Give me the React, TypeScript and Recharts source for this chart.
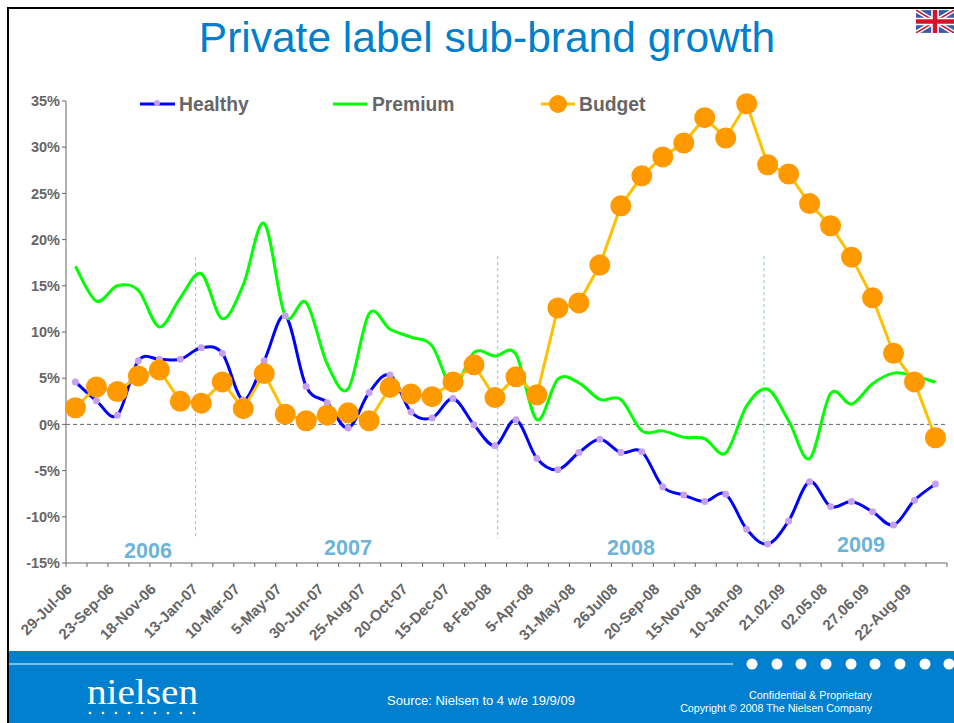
import React from 'react'
import { LineChart, Line, XAxis, YAxis, ReferenceLine } from 'recharts'

const periodLabels = [
  '29-Jul-06', '23-Sep-06', '18-Nov-06', '13-Jan-07', '10-Mar-07', '5-May-07', '30-Jun-07',
  '25-Aug-07', '20-Oct-07', '15-Dec-07', '8-Feb-08', '5-Apr-08', '31-May-08', '26Jul08',
  '20-Sep-08', '15-Nov-08', '10-Jan-09', '21.02.09', '02.05.08', '27.06.09', '22-Aug-09'
]

const healthy = [
  4.6, 2.55, 1.0, 6.9, 7.05, 7.05, 8.3, 7.7, 2.65, 6.9, 11.75, 4.1, 2.35, -0.4,
  3.45, 5.35, 1.35, 0.7, 2.8, -0.05, -2.3, 0.5, -3.7, -4.9, -3.05, -1.6, -3.05, -2.95,
  -6.75, -7.65, -8.35, -7.55, -11.35, -12.95, -10.45, -6.2, -8.9, -8.35, -9.45, -10.9, -8.2, -6.45
]
const premium = [
  17.1, 13.35, 15.0, 14.5, 10.55, 13.7, 16.3, 11.45, 15.1, 21.75, 11.75, 13.2, 6.55, 3.85,
  12.0, 10.3, 9.45, 8.5, 4.0, 7.8, 7.4, 7.6, 0.5, 4.9, 4.5, 2.7, 2.7, -0.7,
  -0.7, -1.4, -1.55, -3.1, 2.0, 3.8, 0.4, -3.7, 3.35, 2.2, 4.4, 5.55, 5.25, 4.55
]
const budget = [
  1.8, 4.05, 3.55, 5.25, 5.9, 2.5, 2.3, 4.6, 1.7, 5.5, 1.1, 0.4, 1.0, 1.25,
  0.4, 4.0, 3.3, 3.0, 4.6, 6.45, 2.9, 5.15, 3.2, 12.6, 13.15, 17.25, 23.65, 26.9,
  28.95, 30.45, 33.2, 31.0, 34.7, 28.1, 27.1, 23.9, 21.5, 18.1, 13.7, 7.7, 4.6, -1.45
]

const yTicks = [-15, -10, -5, 0, 5, 10, 15, 20, 25, 30, 35]
const slotTicks = Array.from({ length: 43 }, (_, i) => i)

// year dividers, in axis units: slot, top value, bottom value
const dividers = [
  [6.18, 18.1, -12.4],
  [20.58, 18.2, -12.4],
  [33.27, 18.2, -12.9]
]
const years = [
  { text: '2006', x: 148, y: 558 },
  { text: '2007', x: 348, y: 555 },
  { text: '2008', x: 631, y: 555 },
  { text: '2009', x: 861, y: 552 }
]
const footerDots = [752, 777, 801, 826, 851, 875, 900, 925, 949]
const logoDots = [90, 103, 116, 129, 142, 155, 168, 181, 194]

const data = healthy.map((h, i) => ({
  slot: i + 0.45,
  Healthy: h,
  Premium: premium[i],
  Budget: budget[i]
}))

const font = '"Liberation Sans", Arial, sans-serif'
const grey = '#666666'

// same smoothing as an Excel smoothed line: tangents from the neighbouring points
function excelSmooth(context: any) {
  let pts: [number, number][] = []
  return {
    areaStart() {},
    areaEnd() {},
    lineStart() {
      pts = []
    },
    point(x: number, y: number) {
      pts.push([+x, +y])
    },
    lineEnd() {
      pts.forEach((p, i) => {
        if (i === 0) {
          context.moveTo(p[0], p[1])
          return
        }
        const p0 = pts[Math.max(i - 2, 0)]
        const p1 = pts[i - 1]
        const p3 = pts[Math.min(i + 1, pts.length - 1)]
        context.bezierCurveTo(
          p1[0] + (p[0] - p0[0]) / 6,
          p1[1] + (p[1] - p0[1]) / 6,
          p[0] - (p3[0] - p1[0]) / 6,
          p[1] - (p3[1] - p1[1]) / 6,
          p[0],
          p[1]
        )
      })
    }
  }
}

function SlotTick({ x, y, payload }: any) {
  const label = payload.value % 2 === 0 ? periodLabels[payload.value / 2] : undefined
  if (!label) return <g />
  const px = x + 7
  const py = y + 21
  return (
    <text x={px} y={py} transform={`rotate(-45 ${px} ${py})`} textAnchor="end" fontFamily={font} fontWeight="bold" fontSize={15} fill={grey}>
      {label}
    </text>
  )
}

function Flag() {
  return (
    <svg x={916} y={10} width={38} height={23} viewBox="0 0 60 36">
      <rect width="60" height="36" fill="#3c5aa8" />
      <path d="M0 0L60 36M60 0L0 36" stroke="#fff" strokeWidth="7" />
      <path d="M0 0L60 36M60 0L0 36" stroke="#cf142b" strokeWidth="2.5" />
      <path d="M30 0V36M0 18H60" stroke="#fff" strokeWidth="12" />
      <path d="M30 0V36M0 18H60" stroke="#cf142b" strokeWidth="7" />
    </svg>
  )
}

function Backdrop() {
  const legendText = { fontFamily: font, fontWeight: 'bold', fontSize: 19.3, fill: grey } as const
  return (
    <svg width={954} height={723} style={{ position: 'absolute', left: 0, top: 0 }}>
      <rect x={8} y={651} width={946} height={72} fill="#0080cf" />
      <rect x={7} y={7} width={947} height={2} fill="#000" />
      <rect x={7} y={7} width={2} height={716} fill="#000" />
      <line x1={9} x2={733} y1={664} y2={664} stroke="#fff" strokeWidth={1} />
      {footerDots.map((cx) => <circle key={cx} cx={cx} cy={664} r={5.5} fill="#fff" />)}
      <text x={87} y={704} fontFamily='"Liberation Serif", serif' fontSize={36} fill="#fff" textLength={111} lengthAdjust="spacingAndGlyphs">nielsen</text>
      {logoDots.map((cx) => <circle key={cx} cx={cx} cy={713} r={1.3} fill="#fff" />)}
      <text x={387} y={705} fontFamily={font} fontSize={13} fill="#fff">Source: Nielsen to 4 w/e 19/9/09</text>
      <text x={872} y={699} textAnchor="end" fontFamily={font} fontSize={10.8} fill="#fff">Confidential &amp; Proprietary</text>
      <text x={872} y={712} textAnchor="end" fontFamily={font} fontSize={10.7} fill="#fff">Copyright © 2008 The Nielsen Company</text>
      <Flag />
      <text x={487} y={52} textAnchor="middle" fontFamily={font} fontSize={42.5} fill="#0080cc">Private label sub-brand growth</text>

      <line x1={140} x2={175} y1={104} y2={104} stroke="#0000ff" strokeWidth={3} />
      <circle cx={157} cy={103} r={3} fill="#c8a0f0" />
      <text x={179} y={111} {...legendText}>Healthy</text>
      <line x1={333} x2={367} y1={104} y2={104} stroke="#00ff00" strokeWidth={3} />
      <text x={372} y={111} {...legendText}>Premium</text>
      <line x1={541} x2={575} y1={104} y2={104} stroke="#ffc000" strokeWidth={3} />
      <circle cx={558} cy={104} r={9} fill="#ff9900" />
      <text x={579} y={111} {...legendText}>Budget</text>

      {years.map((yr) => (
        <text key={yr.text} x={yr.x} y={yr.y} textAnchor="middle" fontFamily={font} fontWeight="bold" fontSize={21.5} fill="#6cb4d8">{yr.text}</text>
      ))}
    </svg>
  )
}

export default function App() {
  return (
    <div style={{ position: 'absolute', left: 0, top: 0, width: 954, height: 723, background: '#fff', overflow: 'hidden' }}>
      <Backdrop />
      <div style={{ position: 'absolute', left: 0, top: 0 }}>
        <LineChart width={954} height={723} data={data} margin={{ top: 101, right: 7, bottom: 0, left: 0 }}>
          <XAxis
            dataKey="slot"
            type="number"
            domain={[0, 42]}
            ticks={slotTicks}
            interval={0}
            height={160}
            tickSize={4}
            stroke={grey}
            tick={<SlotTick />}
          />
          <YAxis
            type="number"
            domain={[-15, 35]}
            ticks={yTicks}
            interval={0}
            width={66}
            tickSize={4}
            tickMargin={2}
            stroke={grey}
            tickFormatter={(v) => `${v}%`}
            tick={{ fontFamily: font, fontWeight: 'bold', fontSize: 14.5, fill: grey }}
          />
          <ReferenceLine y={0} stroke={grey} strokeDasharray="4 3" />
          {dividers.map(([slot, top, bottom]) => (
            <ReferenceLine
              key={slot}
              segment={[{ x: slot, y: top }, { x: slot, y: bottom }]}
              stroke="#7cc4dc"
              strokeDasharray="3 3"
            />
          ))}
          <Line type={excelSmooth as any} dataKey="Healthy" stroke="#0000ff" strokeWidth={3} dot={{ r: 3.5, fill: '#c8a0f0', stroke: 'none' }} isAnimationActive={false} />
          <Line type={excelSmooth as any} dataKey="Premium" stroke="#00ff00" strokeWidth={3} dot={false} isAnimationActive={false} />
          <Line type="linear" dataKey="Budget" stroke="#ffc000" strokeWidth={3} dot={{ r: 10.5, fill: '#ff9900', stroke: 'none' }} isAnimationActive={false} />
        </LineChart>
      </div>
    </div>
  )
}
